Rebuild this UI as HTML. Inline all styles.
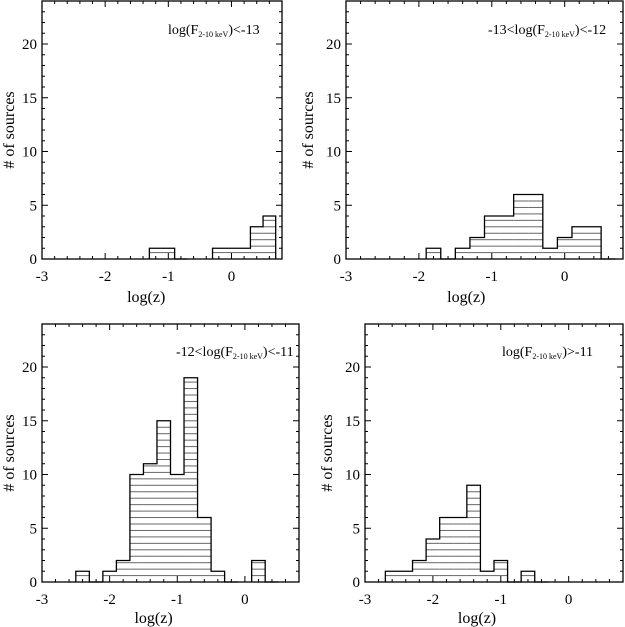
<!DOCTYPE html>
<html><head><meta charset="utf-8"><style>
html,body{margin:0;padding:0;background:#fff}
svg{display:block}
text{font-family:"Liberation Serif",serif;fill:#000}
</style></head><body>
<svg id="fig" width="625" height="627" viewBox="0 0 625 627"></svg>
<script>
// bin centers (width 0.2)
const binCenters = [-2.8,-2.6,-2.4,-2.2,-2.0,-1.8,-1.6,-1.4,-1.2,-1.0,-0.8,-0.6,-0.4,-0.2,0.0,0.2,0.4,0.6];
const countsFaint = [0,0,0,0,0,0,0,0,1,1,0,0,0,1,1,1,3,4];
const countsMid1  = [0,0,0,0,0,1,0,1,2,4,4,6,6,1,2,3,3,0];
const countsMid2  = [0,0,1,0,1,2,10,11,15,10,19,6,1,0,0,2,0,0];
const countsBright= [0,1,1,2,4,6,6,9,1,2,0,1,0,0,0,0,0,0];
const xTicks = [-3,-2,-1,0];
const yTicks = [0,5,10,15,20];
const binWidth = 0.2;

const NS='http://www.w3.org/2000/svg';
const svg=document.getElementById('fig');
function mk(tag,attrs,parent){const e=document.createElementNS(NS,tag);for(const k in attrs)e.setAttribute(k,attrs[k]);(parent||svg).appendChild(e);return e;}

const panels=[
 {id:'panel-faint',counts:countsFaint,L:42,R:282,T:1,B:259,ylx:14,ylab:'log(F|2-10 keV|)<-13',annX:168,annY:34,xtY:281,xtitleY:302},
 {id:'panel-mid1',counts:countsMid1,L:346,R:623,T:1,B:259,ylx:313,ylab:'-13<log(F|2-10 keV|)<-12',annX:488,annY:34,xtY:281,xtitleY:302},
 {id:'panel-mid2',counts:countsMid2,L:42,R:299,T:324,B:582,ylx:14,ylab:'-12<log(F|2-10 keV|)<-11',annX:176,annY:356,xtY:604,xtitleY:623},
 {id:'panel-bright',counts:countsBright,L:365,R:623,T:324,B:582,ylx:332,ylab:'log(F|2-10 keV|)>-11',annX:502,annY:356,xtY:604,xtitleY:623}
];

panels.forEach(p=>{
 const g=mk('g',{});
 
 
 const xmin=-3,xmax=0.8,ymin=0,ymax=24;
 const sx=v=>p.L+(v-xmin)/(xmax-xmin)*(p.R-p.L);
 const sy=v=>p.B-(v-ymin)/(ymax-ymin)*(p.B-p.T);
 const hg=mk('g',{},g);
 
 
 p.counts.forEach((c,i)=>{
  if(c<=0)return;
  const x0=sx(binCenters[i]-binWidth/2),x1=sx(binCenters[i]+binWidth/2);
  const top=sy(c);
  for(let y=p.B-6.4;y>top+0.5;y-=6.45){
   const l=mk('line',{x1:x0,x2:x1,y1:y,y2:y,stroke:'#666','stroke-width':1},hg);
   
   
  }
 });
 let d='';
 p.counts.forEach((c,i)=>{
  const x0=sx(binCenters[i]-binWidth/2),x1=sx(binCenters[i]+binWidth/2);
  const prev=i>0?p.counts[i-1]:0;
  if(c>0||prev>0){
   d+=(d===''||prev===0&&c>0?'M'+x0+' '+sy(prev):'')+' L'+x0+' '+sy(c)+' L'+x1+' '+sy(c);
  }
  if(c>0&&(i===p.counts.length-1||p.counts[i+1]===0)){d+=' L'+x1+' '+sy(0);}
 });
 const path=mk('path',{d:d,fill:'none',stroke:'#000','stroke-width':1.3},g);
 
 
 const fr=mk('rect',{x:p.L,y:p.T,width:p.R-p.L,height:p.B-p.T,fill:'none',stroke:'#000','stroke-width':1.3},g);
 
 
 for(let k=0;k<=19;k++){
  const v=xmin+k*0.2; const x=sx(v); const major=Math.abs(v-Math.round(v))<1e-6;
  const len=major?6:3;
  mk('line',{x1:x,x2:x,y1:p.B,y2:p.B-len,stroke:'#000','stroke-width':1},g);
  mk('line',{x1:x,x2:x,y1:p.T,y2:p.T+len,stroke:'#000','stroke-width':1},g);
 }
 xTicks.forEach(v=>{
  const t=mk('text',{x:sx(v),y:p.xtY,'font-size':15,'text-anchor':'middle'},g);
  t.textContent=String(v);
  
  
 });
 for(let v=0;v<=24;v++){
  const y=sy(v); const len=v%5===0?6:3;
  mk('line',{x1:p.L,x2:p.L+len,y1:y,y2:y,stroke:'#000','stroke-width':1},g);
  mk('line',{x1:p.R,x2:p.R-len,y1:y,y2:y,stroke:'#000','stroke-width':1},g);
 }
 yTicks.forEach(v=>{
  const t=mk('text',{x:p.L-5,y:sy(v)+5,'font-size':15,'text-anchor':'end'},g);
  t.textContent=String(v);
  
  
 });
 const xt=mk('text',{x:sx(-1.5)+(sx(0)-sx(-3))*0.05,y:p.xtitleY,'font-size':16,'text-anchor':'middle'},g);
 xt.textContent='log(z)';
 
 
 const yc=(p.T+p.B)/2;
 const yt=mk('text',{x:p.ylx,y:yc,'font-size':16,'text-anchor':'middle',transform:'rotate(-90 '+p.ylx+' '+yc+')'},g);
 yt.textContent='# of sources';
 
 
 const parts=p.ylab.split('|');
 const an=mk('text',{x:p.annX,y:p.annY,'font-size':14},g);
 
 
 const s1=mk('tspan',{},an);s1.textContent=parts[0];
 const s2=mk('tspan',{'font-size':8,dy:3},an);s2.textContent=parts[1];
 const s3=mk('tspan',{dy:-3},an);s3.textContent=parts[2];
});
</script>
</body></html>
